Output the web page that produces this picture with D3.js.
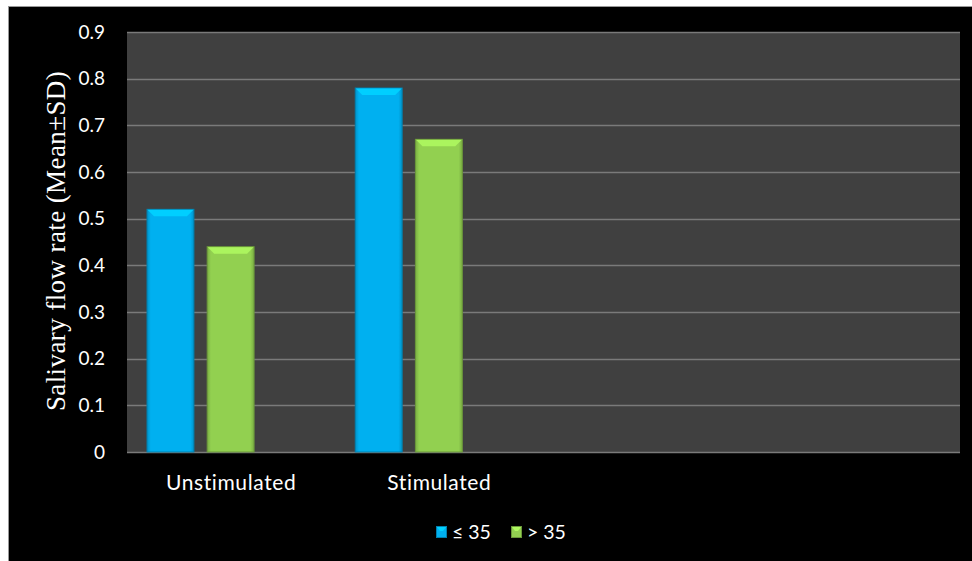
<!DOCTYPE html>
<html><head><meta charset="utf-8">
<script src="https://cdn.jsdelivr.net/npm/d3@7"></script>
<style>html,body{margin:0;padding:0;background:#fff;}svg{display:block;}</style>
</head><body>
<script>
const categories = ["Unstimulated", "Stimulated", "", " "];
const seriesNames = ["≤ 35", "> 35"];
const seriesLow = [0.52, 0.78, null, null];
const seriesHigh = [0.44, 0.67, null, null];
const yTicks = [0, 0.1, 0.2, 0.3, 0.4, 0.5, 0.6, 0.7, 0.8, 0.9];
const colors = ["#00B0F0", "#92D050"];
const series = [seriesLow, seriesHigh];

const W = 972, H = 561;
const svg = d3.select("body").append("svg").attr("width", W).attr("height", H);
svg.append("rect").attr("width", W).attr("height", H).attr("fill", "#fff");
svg.append("rect").attr("x", 8).attr("y", 6).attr("width", W - 8).attr("height", H - 6).attr("fill", "#000");
svg.append("line").attr("x1", 8).attr("x2", W).attr("y1", 6.5).attr("y2", 6.5).attr("stroke", "#999");
svg.append("line").attr("x1", 8.5).attr("x2", 8.5).attr("y1", 6).attr("y2", H).attr("stroke", "#999");

const plot = {l: 127, r: 960, t: 32, b: 452};
const x = d3.scaleBand().domain(categories).range([plot.l, plot.r]);
const inner = d3.scaleBand().domain([0, 1, 2]).range([20, x.bandwidth() - 21]).paddingInner(0.22);
const y = d3.scaleLinear().domain([0, 0.9]).range([plot.b, plot.t]);

const defs = svg.append("defs");
colors.forEach((c, i) => {
  const g = defs.append("linearGradient").attr("id", "g" + i).attr("x1", 0).attr("x2", 1).attr("y1", 0).attr("y2", 0);
  const dk = d3.color(c).darker(0.5);
  g.append("stop").attr("offset", "0").attr("stop-color", dk);
  g.append("stop").attr("offset", "0.08").attr("stop-color", c);
  g.append("stop").attr("offset", "0.92").attr("stop-color", c);
  g.append("stop").attr("offset", "1").attr("stop-color", dk);
});

svg.append("rect").attr("x", plot.l).attr("y", plot.t).attr("width", plot.r - plot.l).attr("height", plot.b - plot.t).attr("fill", "#404040");

svg.append("g").selectAll("line").data(yTicks).join("line")
  .attr("x1", plot.l).attr("x2", plot.r)
  .attr("y1", d => Math.round(y(d)) + 0.5).attr("y2", d => Math.round(y(d)) + 0.5)
  .attr("stroke", "#7a7a7a").attr("stroke-width", 1.5);

const font = "Lato, 'Open Sans', sans-serif";
const yAxis = d3.axisLeft(y).tickValues(yTicks).tickSize(0).tickPadding(22).tickFormat(d => d === 0 ? "0" : d3.format(".1f")(d));
const ya = svg.append("g").attr("transform", `translate(${plot.l},0)`).call(yAxis);
ya.select(".domain").remove();
ya.selectAll("text").attr("fill", "#fff").attr("font-family", font).attr("font-size", 19);

const xAxis = d3.axisBottom(x).tickSize(0).tickPadding(23);
const xa = svg.append("g").attr("transform", `translate(0,${plot.b})`).call(xAxis);
xa.select(".domain").remove();
xa.selectAll("text").attr("fill", "#fff").attr("font-family", font).attr("font-size", 21).attr("letter-spacing", 0.6);

const bars = svg.append("g");
series.forEach((vals, si) => {
  vals.forEach((v, ci) => {
    if (v == null) return;
    const bx = x(categories[ci]) + inner(si);
    const bw = inner.bandwidth();
    const by = y(v);
    const bh = y(0) - by;
    const c = colors[si];
    bars.append("rect").attr("x", bx).attr("y", by).attr("width", bw).attr("height", bh)
      .attr("fill", `url(#g${si})`).attr("stroke", d3.color(c).darker(0.9)).attr("stroke-width", 1);
    const bev = 7;
    bars.append("path")
      .attr("d", `M${bx + 0.5},${by + 0.5}L${bx + bw - 0.5},${by + 0.5}L${bx + bw - bev},${by + bev}L${bx + bev},${by + bev}Z`)
      .attr("fill", d3.color(c).brighter(0.45));
  });
});

svg.append("text")
  .attr("transform", `translate(65,241) rotate(-90)`)
  .attr("text-anchor", "middle").attr("fill", "#fff")
  .attr("font-family", "'Liberation Serif', 'Times New Roman', serif").attr("font-size", 27)
  .attr("letter-spacing", 0.4)
  .text("Salivary  flow rate (Mean±SD)");

const legend = svg.append("g").attr("transform", "translate(436,532)");
const lx = [0, 75];
seriesNames.forEach((n, i) => {
  const g = legend.append("g").attr("transform", `translate(${lx[i]},0)`);
  g.append("rect").attr("x", 0.5).attr("y", -5.5).attr("width", 10).attr("height", 11)
    .attr("fill", colors[i]).attr("stroke", d3.color(colors[i]).darker(0.9));
  g.append("path").attr("d", "M1,-5L10,-5L7,-1L4,-1Z").attr("fill", d3.color(colors[i]).brighter(0.5));
  g.append("text").attr("x", 16).attr("y", 0).attr("dy", "0.36em").attr("fill", "#fff")
    .attr("font-family", font).attr("font-size", 19.5).text(n);
});
</script>
</body></html>
